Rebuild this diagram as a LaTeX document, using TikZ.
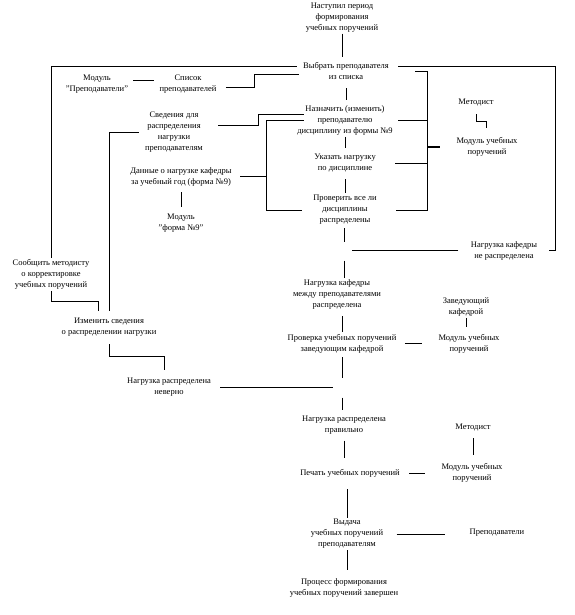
\documentclass[tikz,border=0pt]{standalone}
\usepackage{fontspec}
\setmainfont{Liberation Serif}

\begin{document}
\begin{tikzpicture}[x=1pt, y=-1pt, line width=0.9pt,
    txt/.style={align=center, inner sep=1pt, font=\fontsize{8.5}{11}\selectfont}]

    \useasboundingbox (0,0) rectangle (574,615);

    % Schritte (Mitte)
    \node (start) at (342,17.5) [txt] {Наступил период\\формирования\\учебных поручений};
    \node (choose) at (346,71) [txt] {Выбрать преподавателя\\из списка};
    \node (naznach) at (345,120.5) [txt] {Назначить (изменить)\\преподавателю\\дисциплину из формы №9};
    \node (ukaz) at (345,163.5) [txt] {Указать нагрузку\\по дисциплине};
    \node (prover) at (345,210) [txt] {Проверить все ли\\дисциплины\\распределены};
    \node (rasp) at (337,294) [txt] {Нагрузка кафедры\\между преподавателями\\распределена};
    \node (proverka) at (342,343.5) [txt] {Проверка учебных поручений\\заведующим кафедрой};
    \node (pravilno) at (344,425) [txt] {Нагрузка распределена\\правильно};
    \node (pechat) at (350,473) [txt] {Печать учебных поручений};
    \node (vydacha) at (347,534) [txt] {Выдача\\учебных поручений\\преподавателям};
    \node (konec) at (344,587.5) [txt] {Процесс формирования\\учебных поручений завершен};

    % Daten und Module (links)
    \node (modprep) at (97,84.5) [txt] {Модуль\\"Преподаватели"};
    \node (spisok) at (188,84.5) [txt] {Список\\преподавателей};
    \node (sved) at (174,132.5) [txt] {Сведения для\\распределения\\нагрузки\\преподавателям};
    \node (dannye) at (181,176.5) [txt] {Данные о нагрузке кафедры\\за учебный год (форма №9)};
    \node (modf9) at (181,223.5) [txt] {Модуль\\"форма №9"};
    \node (soobsh) at (51,274.5) [txt] {Сообщить методисту\\о корректировке\\учебных поручений};
    \node (izmen) at (109,327.5) [txt] {Изменить сведения\\о распределении нагрузки};
    \node (neverno) at (169,387.5) [txt] {Нагрузка распределена\\неверно};

    % Ausfuehrende und Module (rechts)
    \node (metod1) at (476,103) [txt] {Методист};
    \node (modul1) at (487,147) [txt] {Модуль учебных\\поручений};
    \node (nerasp) at (504,250.5) [txt] {Нагрузка кафедры\\не распределена};
    \node (zav) at (466,307) [txt] {Заведующий\\кафедрой};
    \node (modul2) at (469,343.5) [txt] {Модуль учебных\\поручений};
    \node (metod2) at (473,428) [txt] {Методист};
    \node (modul3) at (472,472.5) [txt] {Модуль учебных\\поручений};
    \node (prepod) at (497,533) [txt] {Преподаватели};

    % Hilfspunkte
    \coordinate (j1) at (344,250.5);
    \coordinate (j2) at (342,387.5);
    \coordinate (rb) at (427,71);
    \coordinate (lb) at (266,120.5);

    % Hauptlinie
    \draw[shorten >=4pt] (start.south) -- (start.south |- choose.north);
    \draw[shorten <=7pt, shorten >=4pt] (choose.south) -- (choose.south |- naznach.north);
    \draw[shorten >=5pt] (naznach.south) -- (naznach.south |- ukaz.north);
    \draw[shorten <=5pt, shorten >=1pt] (ukaz.south) -- (ukaz.south |- prover.north);
    \draw[shorten <=2pt, shorten >=9pt] (j1 |- prover.south) -- (j1);
    \draw[shorten <=10pt] (j1) -- (j1 |- rasp.north);
    \draw[shorten <=6pt, shorten >=1pt] (proverka.north |- rasp.south) -- (proverka.north);
    \draw[shorten <=3pt, shorten >=10pt] (proverka.south) -- (j2);
    \draw[shorten <=10pt, shorten >=4pt] (j2) -- (j2 |- pravilno.north);
    \draw[shorten <=5pt, shorten >=10pt] (pravilno.south) -- (pravilno.south |- pechat.north);
    \draw[shorten <=11pt] (vydacha.north |- pechat.south) -- (vydacha.north);
    \draw[shorten >=7pt] (vydacha.south) -- (vydacha.south |- konec.north);

    % Rahmen aussen
    \draw ([xshift=-5pt,yshift=5pt]choose.west) -| (soobsh.north);
    \draw ([xshift=8pt,yshift=5pt]choose.east) -| ([xshift=17pt]nerasp.east) -- ([xshift=10pt]nerasp.east);
    \draw[shorten <=11pt, shorten >=8pt] (nerasp.west) -- (j1);

    % Klammer rechts
    \draw ([xshift=25pt]choose.east) -- (rb) -- (rb |- prover.east) -- ([xshift=18pt]prover.east);
    \draw ([xshift=4pt]naznach.east) -- (naznach.east -| rb);
    \draw ([xshift=18pt]ukaz.east) -- (ukaz.east -| rb);
    \draw[line width=2pt] (rb |- modul1.west) -- ([xshift=-15pt]modul1.west);
    \draw ([yshift=-6pt]metod1.south) -- ++(0,7) -| ([xshift=-1pt,yshift=8pt]modul1.north);

    % Klammern links
    \draw[shorten <=4pt, shorten >=4pt] ([yshift=4pt]modprep.east) -- ([yshift=4pt]spisok.west);
    \draw ([xshift=8pt,yshift=-3pt]spisok.east) -- ++(29,0) |- ([xshift=-3pt,yshift=-3pt]choose.west);
    \draw ([xshift=14pt,yshift=7pt]sved.east) -- ++(40,0) |- ([xshift=8pt,yshift=6pt]naznach.west);
    \draw ([xshift=8pt]naznach.west) -- (lb) -- (lb |- prover.west) -- ([xshift=-10pt]prover.west);
    \draw ([xshift=7pt]dannye.east) -- (dannye.east -| lb);
    \draw[shorten <=5pt, shorten >=6pt] (dannye.south) -- (modf9.north);
    \draw ([xshift=-5pt]sved.west) -| ([yshift=6pt]izmen.north);
    \draw (soobsh.south) -- ++(0,11) -| ([xshift=-11pt,yshift=6pt]izmen.north);
    \draw ([yshift=-6pt]izmen.south) -- ++(0,12) -| ([xshift=-5pt,yshift=7pt]neverno.north);
    \draw[shorten <=8pt, shorten >=9pt] (neverno.east) -- (j2);

    % Module unten
    \draw[shorten >=6pt] (zav.south) -- (zav.south |- modul2.north);
    \draw[shorten <=7pt, shorten >=15pt] (proverka.east) -- (proverka.east -| modul2.west);
    \draw[shorten <=5pt, shorten >=7pt] (metod2.south) -- (metod2.south |- modul3.north);
    \draw[shorten <=8pt, shorten >=15pt] (pechat.east) -- (pechat.east -| modul3.west);
    \draw[shorten <=12pt, shorten >=23pt] (vydacha.east) -- (vydacha.east -| prepod.west);

\end{tikzpicture}
\end{document}
